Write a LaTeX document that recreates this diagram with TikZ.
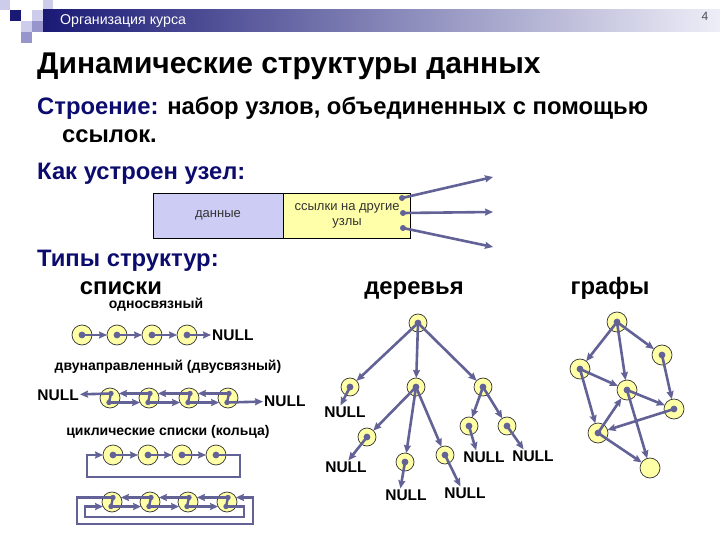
\documentclass[tikz,border=0pt]{standalone}
\usepackage{fontspec}
\setmainfont{Liberation Sans}
\usepackage{tikz}
\usetikzlibrary{arrows.meta,positioning}

\definecolor{navy}{RGB}{12,12,110}
\definecolor{linkc}{RGB}{98,98,150}
\definecolor{elemfill}{RGB}{255,255,165}
\definecolor{datafill}{RGB}{204,204,245}
\definecolor{reffill}{RGB}{255,255,170}
\definecolor{barl}{RGB}{26,26,118}
\definecolor{barr}{RGB}{238,238,248}
\definecolor{sqdark}{RGB}{26,26,118}
\definecolor{sqmid}{RGB}{150,150,205}
\definecolor{sqlight}{RGB}{205,205,235}

\begin{document}
\begin{tikzpicture}[
  x=1pt,y=-1pt,
  elem/.style={circle,draw=black!80,fill=elemfill,minimum size=20pt,inner sep=0pt,outer sep=0pt,line width=0.7pt},
  telem/.style={elem,minimum size=18pt},
  lnk/.style={-{Stealth[length=8pt,width=7pt,inset=1pt]},line width=2.6pt,draw=linkc},
  wire/.style={line width=2.4pt,draw=linkc},
  nul/.style={font=\fontsize{15.5}{15.5}\selectfont\bfseries,inner sep=1pt},
  lbl/.style={font=\fontsize{14}{14}\selectfont\bfseries,inner sep=0pt},
  head/.style={font=\fontsize{23.8}{23.8}\selectfont\bfseries,anchor=base west,inner sep=0pt},
  boxtext/.style={font=\fontsize{13}{15}\selectfont,text=black!80,align=center,draw=black,line width=0.6pt,minimum height=45pt,inner sep=0pt}
]
\useasboundingbox (0,0) rectangle (720,540);

% header
\fill[sqlight] (0,0) rectangle (10,10);
\fill[sqdark] (10,10) rectangle (21,21);
\fill[sqlight] (43,0) rectangle (53,10);
\fill[sqlight] (32,10) rectangle (43,21);
\fill[sqlight] (21,21) rectangle (32,32);
\fill[sqmid] (32,21) rectangle (43,32);
\fill[sqmid] (21,32) rectangle (32,43);
\shade[left color=barl,right color=barr] (43,10) rectangle (720,32);
\node[anchor=west,text=white,font=\fontsize{14.2}{14.2}\selectfont,inner sep=0pt] (crs) at (60,21) {Организация курса};
\node[text=black!70,font=\fontsize{12}{12}\selectfont,inner sep=0pt] (pg) at (705,16) {4};

% title and text
\node[anchor=base west,inner sep=0pt,font=\fontsize{30}{30}\selectfont\bfseries] (ttl) at (37,74) {Динамические структуры данных};
\node[head] (str) at (37,115) {\textcolor{navy}{Строение:} набор узлов, объединенных с помощью};
\node[head] (str2) at (62,143) {ссылок.};
\node[head,text=navy] (kak) at (37,180) {Как устроен узел:};
\node[head,text=navy] (tip) at (37,266) {Типы структур:};
\node[head,anchor=base] (lst) at (121,294) {списки};
\node[head,anchor=base] (trs) at (414,294) {деревья};
\node[head,anchor=base] (grf) at (610,294) {графы};

% node layout
\node[boxtext,fill=datafill,minimum width=130pt] (dat) at (218,215.5) {данные};
\node[boxtext,fill=reffill,minimum width=127pt,right=0pt of dat] (ref) {ссылки на другие\\узлы};
\coordinate (r1) at (402,198); \coordinate (r2) at (403,213); \coordinate (r3) at (403,228);
\coordinate (q1) at (493,177); \coordinate (q2) at (493,212); \coordinate (q3) at (493,247);
\draw[lnk] (r1) -- (q1); \draw[lnk] (r2) -- (q2); \draw[lnk] (r3) -- (q3);
\fill[linkc] (r1) circle (3pt); \fill[linkc] (r2) circle (3pt); \fill[linkc] (r3) circle (3pt);

% singly linked
\node[lbl] (l1) at (156,305) {односвязный};
\node[elem] (s1) at (82,335) {}; \node[elem] (s2) at (117,335) {};
\node[elem] (s3) at (152,335) {}; \node[elem] (s4) at (187,335) {};
\node[nul,anchor=west] (sn) at (211,335) {NULL};
\draw[lnk] (s1.center) -- (s2); \draw[lnk] (s2.center) -- (s3);
\draw[lnk] (s3.center) -- (s4); \draw[lnk] (s4.center) -- (sn);
\fill[linkc] (s1) circle (3.4pt); \fill[linkc] (s2) circle (3.4pt);
\fill[linkc] (s3) circle (3.4pt); \fill[linkc] (s4) circle (3.4pt);

% doubly linked
\node[lbl] (l2) at (168,367) {двунаправленный (двусвязный)};
\node[elem] (d1) at (110,398) {}; \node[elem] (d2) at (149,398) {};
\node[elem] (d3) at (189,398) {}; \node[elem] (d4) at (228,398) {};
\coordinate (d1u) at (111,393.5); \coordinate (d1l) at (109,402.5);
\coordinate (d2u) at (150,393.5); \coordinate (d2l) at (148,402.5);
\coordinate (d3u) at (190,393.5); \coordinate (d3l) at (188,402.5);
\coordinate (d4u) at (229,393.5); \coordinate (d4l) at (227,402.5);
\node[nul,anchor=east] (dnl) at (80,395) {NULL};
\node[nul,anchor=west] (dnr) at (263,401) {NULL};
\draw[lnk] (d1u) -- (dnl); \draw[lnk] (d2u) -- (d1.27); \draw[lnk] (d3u) -- (d2.27); \draw[lnk] (d4u) -- (d3.27);
\draw[lnk] (d1l) -- (d2.207); \draw[lnk] (d2l) -- (d3.207); \draw[lnk] (d3l) -- (d4.207); \draw[lnk] (d4l) -- (dnr);
\draw[wire] (d1u) -- (d1l); \draw[wire] (d2u) -- (d2l); \draw[wire] (d3u) -- (d3l); \draw[wire] (d4u) -- (d4l);
\fill[linkc] (d1u) circle (2.7pt); \fill[linkc] (d1l) circle (2.7pt);
\fill[linkc] (d2u) circle (2.7pt); \fill[linkc] (d2l) circle (2.7pt);
\fill[linkc] (d3u) circle (2.7pt); \fill[linkc] (d3l) circle (2.7pt);
\fill[linkc] (d4u) circle (2.7pt); \fill[linkc] (d4l) circle (2.7pt);

% circular singly linked
\node[lbl] (l3) at (168,432) {циклические списки (кольца)};
\node[elem] (c1) at (113,455) {}; \node[elem] (c2) at (148,455) {};
\node[elem] (c3) at (182,455) {}; \node[elem] (c4) at (216,455) {};
\coordinate (cbr) at (240,477); \coordinate (cbl) at (87,477);
\draw[lnk] (c1.center) -- (c2); \draw[lnk] (c2.center) -- (c3); \draw[lnk] (c3.center) -- (c4);
\draw[lnk] (c4.center) -| (cbr) -- (cbl) |- (c1.west);
\fill[linkc] (c1) circle (3.4pt); \fill[linkc] (c2) circle (3.4pt);
\fill[linkc] (c3) circle (3.4pt); \fill[linkc] (c4) circle (3.4pt);

% circular doubly linked
\node[elem] (e1) at (112,502) {}; \node[elem] (e2) at (150,502) {};
\node[elem] (e3) at (188,502) {}; \node[elem] (e4) at (227,502) {};
\coordinate (e1u) at (113,497.5); \coordinate (e1l) at (111,506.5);
\coordinate (e2u) at (151,497.5); \coordinate (e2l) at (149,506.5);
\coordinate (e3u) at (189,497.5); \coordinate (e3l) at (187,506.5);
\coordinate (e4u) at (228,497.5); \coordinate (e4l) at (226,506.5);
\coordinate (ebl) at (77,524); \coordinate (ebr) at (253,524);
\coordinate (ibl) at (85,517); \coordinate (ibr) at (244,517);
\draw[lnk] (e2u) -- (e1.27); \draw[lnk] (e3u) -- (e2.27); \draw[lnk] (e4u) -- (e3.27);
\draw[lnk] (e1l) -- (e2.207); \draw[lnk] (e2l) -- (e3.207); \draw[lnk] (e3l) -- (e4.207);
\draw[lnk] (e1u) -| (ebl) -- (ebr) |- (e4.27);
\draw[lnk] (e4l) -| (ibr) -- (ibl) |- (e1.207);
\draw[wire] (e1u) -- (e1l); \draw[wire] (e2u) -- (e2l); \draw[wire] (e3u) -- (e3l); \draw[wire] (e4u) -- (e4l);
\fill[linkc] (e1u) circle (2.7pt); \fill[linkc] (e1l) circle (2.7pt);
\fill[linkc] (e2u) circle (2.7pt); \fill[linkc] (e2l) circle (2.7pt);
\fill[linkc] (e3u) circle (2.7pt); \fill[linkc] (e3l) circle (2.7pt);
\fill[linkc] (e4u) circle (2.7pt); \fill[linkc] (e4l) circle (2.7pt);

% tree
\node[telem] (rt) at (418,323) {};
\node[telem] (t1) at (350,387) {}; \node[telem] (t2) at (416,387) {}; \node[telem] (t3) at (483,387) {};
\node[telem] (t21) at (367,437) {}; \node[telem] (t22) at (405,462) {}; \node[telem] (t23) at (445,455) {};
\node[telem] (t31) at (469,426) {}; \node[telem] (t32) at (507,426) {};
\node[nul] (n1) at (345,412) {NULL}; \node[nul] (n2) at (346,467) {NULL};
\node[nul] (n3) at (406,495) {NULL}; \node[nul] (n4) at (465,493) {NULL};
\node[nul] (n5) at (484,457) {NULL}; \node[nul] (n6) at (533,456) {NULL};
\draw[lnk] (rt.center) -- (t1); \draw[lnk] (rt.center) -- (t2); \draw[lnk] (rt.center) -- (t3);
\draw[lnk] (t2.center) -- (t21); \draw[lnk] (t2.center) -- (t22); \draw[lnk] (t2.center) -- (t23);
\draw[lnk] (t3.center) -- (t31); \draw[lnk] (t3.center) -- (t32);
\draw[lnk] (t1.center) -- (n1.124); \draw[lnk] (t21.center) -- (n2.70);
\draw[lnk] (t22.center) -- (n3.130); \draw[lnk] (t23.center) -- (n4.125);
\draw[lnk] (t31.center) -- (n5.140); \draw[lnk] (t32.center) -- (n6.145);
\fill[linkc] (rt) circle (3.4pt); \fill[linkc] (t1) circle (3.4pt); \fill[linkc] (t2) circle (3.4pt);
\fill[linkc] (t3) circle (3.4pt); \fill[linkc] (t21) circle (3.4pt); \fill[linkc] (t22) circle (3.4pt);
\fill[linkc] (t23) circle (3.4pt); \fill[linkc] (t31) circle (3.4pt); \fill[linkc] (t32) circle (3.4pt);

% graph
\node[elem] (ga) at (617,322) {}; \node[elem] (gb) at (662,355) {};
\node[elem] (gc) at (580,369) {}; \node[elem] (gd) at (627,390) {};
\node[elem] (ge) at (674,409) {}; \node[elem] (gf) at (598,433) {};
\node[elem] (gg) at (650,468) {};
\draw[lnk] (ga.center) -- (gc); \draw[lnk] (ga.center) -- (gd); \draw[lnk] (ga.center) -- (gb);
\draw[lnk] (gb.center) -- (ge);
\draw[lnk] (gc.center) -- (gd); \draw[lnk] (gc.center) -- (gf);
\draw[lnk] (gd.center) -- (ge); \draw[lnk] (gd.center) -- (gg);
\draw[lnk] (ge.center) -- (gf);
\draw[lnk] (gf.center) -- (gd); \draw[lnk] (gf.center) -- (gg);
\fill[linkc] (ga) circle (3.4pt); \fill[linkc] (gb) circle (3.4pt); \fill[linkc] (gc) circle (3.4pt);
\fill[linkc] (gd) circle (3.4pt); \fill[linkc] (ge) circle (3.4pt); \fill[linkc] (gf) circle (3.4pt);
\end{tikzpicture}
\end{document}
